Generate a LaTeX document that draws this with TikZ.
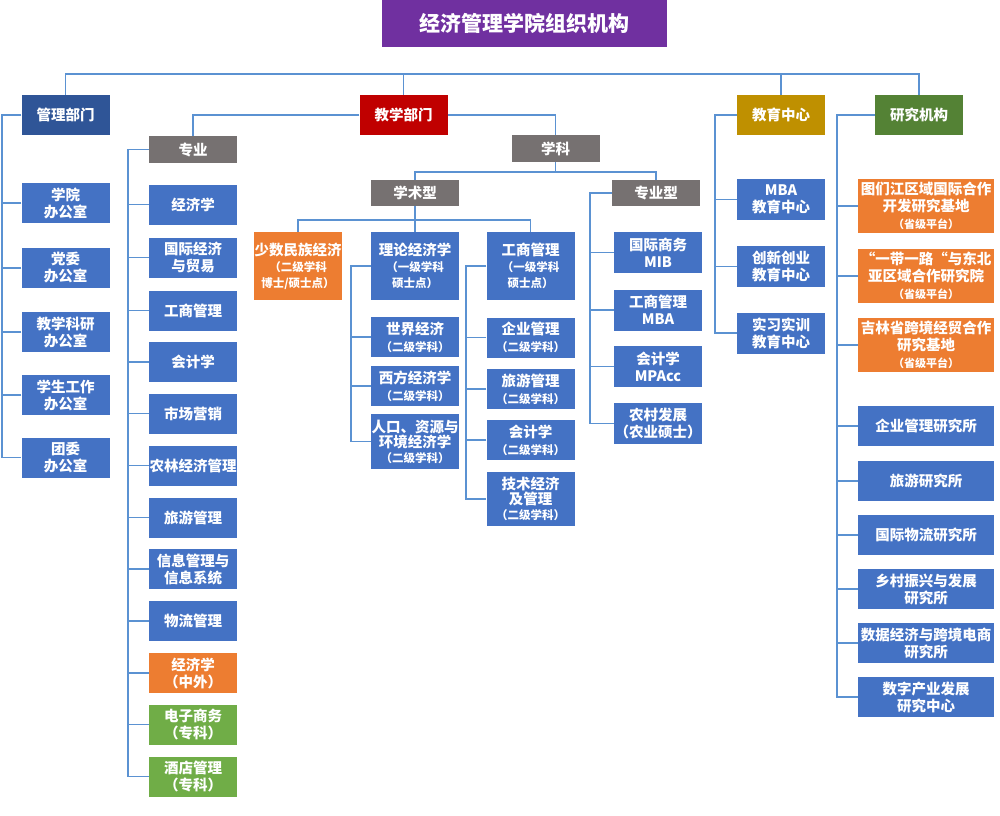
\documentclass[tikz,border=0pt]{standalone}
\usepackage{fontspec}
\setmainfont{Noto Sans CJK SC}
\usepackage{tikz}
\definecolor{orgpurple}{RGB}{112,48,160}
\definecolor{orgnavy}{RGB}{47,85,151}
\definecolor{orgred}{RGB}{192,0,0}
\definecolor{orggold}{RGB}{191,144,0}
\definecolor{orggreen}{RGB}{84,130,53}
\definecolor{orgblue}{RGB}{68,114,196}
\definecolor{orgorange}{RGB}{237,125,49}
\definecolor{orglime}{RGB}{112,173,71}
\definecolor{orggray}{RGB}{118,113,113}
\definecolor{orgline}{RGB}{91,146,210}
\newcommand{\boxfont}{\fontsize{14.5}{17}\selectfont\bfseries}
\newcommand{\subfont}{\fontsize{11.5}{14}\selectfont\bfseries}
\newcommand{\platfont}{\fontsize{11}{13}\selectfont\bfseries}

\begin{document}
\begin{tikzpicture}[x=1pt, y=-1pt,
  box/.style={fill=orgblue, text=white, font=\boxfont, align=center, inner sep=0pt, minimum width=88pt, minimum height=40pt},
  head/.style={box, fill=orggray, minimum height=27pt},
  wide/.style={box, minimum width=136pt},
  link/.style={draw=orgline, line width=1.8pt}]
\fill[white] (0,0) rectangle (1000,815);
\useasboundingbox (0,0) rectangle (1000,815);

% Title
\node[fill=orgpurple, text=white, font=\fontsize{21}{24}\selectfont\bfseries, minimum width=285pt, minimum height=47pt, inner sep=0pt] (title) at (524.5,23.5) {经济管理学院组织机构};

% Level 1
\node[box, fill=orgnavy] (guanli) at (65.5,115) {管理部门};
\node[box, fill=orgred] (jiaoxue) at (403.5,115) {教学部门};
\node[box, fill=orggold] (jiaoyu) at (781,115) {教育中心};
\node[box, fill=orggreen] (yanjiu) at (919,115) {研究机构};

% 管理部门
\node[box] (g1) at (65.5,203) {学院\\办公室};
\node[box] (g2) at (65.5,268) {党委\\办公室};
\node[box] (g3) at (65.5,332) {教学科研\\办公室};
\node[box] (g4) at (65.5,395) {学生工作\\办公室};
\node[box] (g5) at (65.5,457.5) {团委\\办公室};

% 教学部门: 专业 and 学科
\node[head] (zhuanye) at (193,149.5) {专业};
\node[head] (xueke) at (555.5,148.5) {学科};

% 专业
\node[box] (z1) at (193,204.5) {经济学};
\node[box] (z2) at (193,257.5) {国际经济\\与贸易};
\node[box] (z3) at (193,310.5) {工商管理};
\node[box] (z4) at (193,362) {会计学};
\node[box] (z5) at (193,413.5) {市场营销};
\node[box] (z6) at (193,465.5) {农林经济管理};
\node[box] (z7) at (193,517.5) {旅游管理};
\node[box] (z8) at (193,569) {信息管理与\\信息系统};
\node[box] (z9) at (193,621) {物流管理};
\node[box, fill=orgorange] (z10) at (193,673) {经济学\\（中外）};
\node[box, fill=orglime] (z11) at (193,724.5) {电子商务\\（专科）};
\node[box, fill=orglime] (z12) at (193,776.5) {酒店管理\\（专科）};

% 学科
\node[head, minimum height=26pt] (xueshu) at (415,193) {学术型};
\node[head, minimum height=26pt] (zyx) at (656,193) {专业型};

% 学术型
\node[box, fill=orgorange, minimum height=68pt] (minzu) at (298,266) {少数民族经济\\[-1pt]{\subfont （二级学科}\\[-1pt]{\subfont 博士/硕士点）}};
\node[box, minimum height=68pt] (lilun) at (415,266) {理论经济学\\[-1pt]{\subfont （一级学科}\\[-1pt]{\subfont 硕士点）}};
\node[box, minimum height=68pt] (gsgl) at (530.5,266) {工商管理\\[-1pt]{\subfont （一级学科}\\[-1pt]{\subfont 硕士点）}};

\node[box] (l1) at (415,337) {世界经济\\{\subfont （二级学科）}};
\node[box] (l2) at (415,386) {西方经济学\\{\subfont （二级学科）}};
\node[box, minimum height=55pt] (l3) at (415,441.5) {人口、资源与\\[-2pt]环境经济学\\[-2pt]{\subfont （二级学科）}};

\node[box] (b1) at (530.5,337.5) {企业管理\\{\subfont （二级学科）}};
\node[box] (b2) at (530.5,389) {旅游管理\\{\subfont （二级学科）}};
\node[box] (b3) at (530.5,440) {会计学\\{\subfont （二级学科）}};
\node[box, minimum height=54pt] (b4) at (530.5,499) {技术经济\\[-2pt]及管理\\[-2pt]{\subfont （二级学科）}};

% 专业型
\node[box, minimum height=41pt] (p1) at (658,252.5) {国际商务\\MIB};
\node[box, minimum height=41pt] (p2) at (658,310) {工商管理\\MBA};
\node[box, minimum height=41pt] (p3) at (658,366.5) {会计学\\MPAcc};
\node[box, minimum height=41pt] (p4) at (658,423.5) {农村发展\\（农业硕士）};

% 教育中心
\node[box, minimum height=41pt] (e1) at (781,199.5) {MBA\\教育中心};
\node[box, minimum height=41pt] (e2) at (781,266.5) {创新创业\\教育中心};
\node[box, minimum height=41pt] (e3) at (781,333) {实习实训\\教育中心};

% 研究机构
\node[wide, fill=orgorange, minimum height=54pt] (r1) at (926,206) {图们江区域国际合作\\开发研究基地\\{\platfont （省级平台）}};
\node[wide, fill=orgorange, minimum height=54pt] (r2) at (926,276) {“一带一路“与东北\\亚区域合作研究院\\{\platfont （省级平台）}};
\node[wide, fill=orgorange, minimum height=54pt] (r3) at (926,345) {吉林省跨境经贸合作\\研究基地\\{\platfont （省级平台）}};
\node[wide] (r4) at (926,426) {企业管理研究所};
\node[wide] (r5) at (926,481) {旅游研究所};
\node[wide] (r6) at (926,535) {国际物流研究所};
\node[wide] (r7) at (926,589) {乡村振兴与发展\\研究所};
\node[wide] (r8) at (926,643) {数据经济与跨境电商\\研究所};
\node[wide] (r9) at (926,697) {数字产业发展\\研究中心};

% Top bar
\coordinate (topbar) at (0,74);
\draw[link] (guanli.north) -- (guanli.north |- topbar) -- (yanjiu.north |- topbar) -- (yanjiu.north);
\draw[link] (jiaoxue.north) -- (jiaoxue.north |- topbar);
\draw[link] (jiaoyu.north) -- (jiaoyu.north |- topbar);

% 教学部门 branches
\draw[link] (jiaoxue.west) -| (zhuanye.north);
\draw[link] (jiaoxue.east) -| (xueke.north);

% 学科 bar
\coordinate (kbar) at (0,172);
\draw[link] (xueke.south) -- (xueke.south |- kbar);
\draw[link] (xueshu.north) -- (xueshu.north |- kbar) -- (zyx.north |- kbar) -- (zyx.north);

% 学术型 bar
\coordinate (sbar) at (0,220);
\draw[link] (xueshu.south) -- (xueshu.south |- sbar);
\draw[link] (minzu.north) -- (minzu.north |- sbar) -- (gsgl.north |- sbar) -- (gsgl.north);
\draw[link] (lilun.north) -- (lilun.north |- sbar);

% 管理部门 comb
\coordinate (gspine) at (2,0);
\draw[link] (guanli.west) -| (gspine |- g5.west) -- (g5.west);
\draw[link] (g1.west) -- (gspine |- g1.west) (g2.west) -- (gspine |- g2.west)
  (g3.west) -- (gspine |- g3.west) (g4.west) -- (gspine |- g4.west);

% 专业 comb
\coordinate (zspine) at (128,0);
\draw[link] (zhuanye.west) -| (zspine |- z12.west) -- (z12.west);
\draw[link] (z1.west) -- (zspine |- z1.west) (z2.west) -- (zspine |- z2.west)
  (z3.west) -- (zspine |- z3.west) (z4.west) -- (zspine |- z4.west)
  (z5.west) -- (zspine |- z5.west) (z6.west) -- (zspine |- z6.west)
  (z7.west) -- (zspine |- z7.west) (z8.west) -- (zspine |- z8.west)
  (z9.west) -- (zspine |- z9.west) (z10.west) -- (zspine |- z10.west)
  (z11.west) -- (zspine |- z11.west);

% 理论经济学 comb
\coordinate (lspine) at (351,0);
\draw[link] (lilun.west) -| (lspine |- l3.west) -- (l3.west);
\draw[link] (l1.west) -- (lspine |- l1.west) (l2.west) -- (lspine |- l2.west);

% 工商管理 comb
\coordinate (bspine) at (466,0);
\draw[link] (gsgl.west) -| (bspine |- b4.west) -- (b4.west);
\draw[link] (b1.west) -- (bspine |- b1.west) (b2.west) -- (bspine |- b2.west)
  (b3.west) -- (bspine |- b3.west);

% 专业型 comb
\coordinate (pspine) at (590,0);
\draw[link] (zyx.west) -| (pspine |- p4.west) -- (p4.west);
\draw[link] (p1.west) -- (pspine |- p1.west) (p2.west) -- (pspine |- p2.west)
  (p3.west) -- (pspine |- p3.west);

% 教育中心 comb
\coordinate (espine) at (715,0);
\draw[link] (jiaoyu.west) -| (espine |- e3.west) -- (e3.west);
\draw[link] (e1.west) -- (espine |- e1.west) (e2.west) -- (espine |- e2.west);

% 研究机构 comb
\coordinate (rspine) at (837,0);
\draw[link] (yanjiu.west) -| (rspine |- r9.west) -- (r9.west);
\draw[link] (r1.west) -- (rspine |- r1.west) (r2.west) -- (rspine |- r2.west)
  (r3.west) -- (rspine |- r3.west) (r4.west) -- (rspine |- r4.west)
  (r5.west) -- (rspine |- r5.west) (r6.west) -- (rspine |- r6.west)
  (r7.west) -- (rspine |- r7.west) (r8.west) -- (rspine |- r8.west);
\end{tikzpicture}
\end{document}
